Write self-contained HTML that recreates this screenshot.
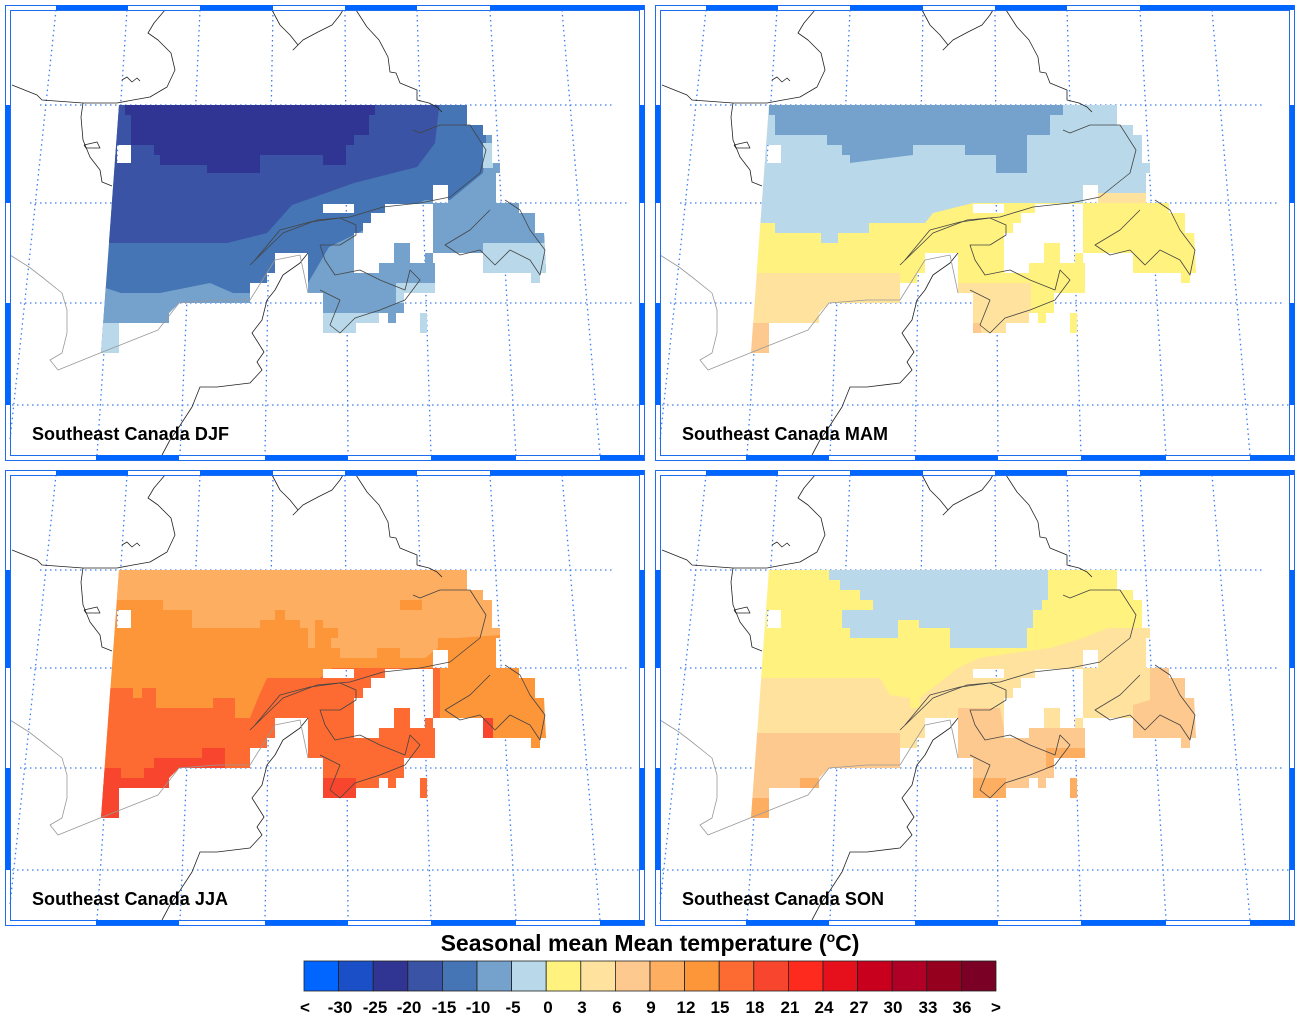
<!DOCTYPE html>
<html><head><meta charset="utf-8"><style>
html,body{margin:0;padding:0;background:#fff;}
svg{display:block;}
text{font-family:"Liberation Sans",sans-serif;font-weight:bold;}
</style></head><body>
<svg width="1300" height="1018" viewBox="0 0 1300 1018" xmlns="http://www.w3.org/2000/svg">
<defs>
<clipPath id="mask">
<path clip-rule="evenodd" d="M119,105 L467,105 L467,125 L483,125 L483,135 L492,135 L492,163 L500,163 L500,173 L496,173 L496,203 L519,203 L519,213 L535,213 L535,233 L544,233 L546,273 L540,273 L540,283 L531,283 L531,273 L483,273 L483,253 L433,253 L433,263 L435,263 L435,293 L404,293 L404,313 L396,313 L396,323 L388,323 L388,313 L379,313 L379,323 L356,323 L356,333 L323,333 L323,293 L308,293 L308,253 L275,253 L275,273 L267,273 L267,283 L250,283 L250,303 L179,303 L169,313 L169,323 L119,323 L119,353 L101,353 Z
M385,204 L433,204 L433,253 L425,253 L425,263 L410,263 L410,243 L394,243 L394,263 L379,263 L379,273 L354,273 L354,233 L363,233 L363,223 L371,223 L371,213 L385,213 Z
M323,204 L354,204 L354,213 L323,213 Z
M433,185 L448,185 L448,203 L433,203 Z
M117,145 L131,145 L131,163 L117,163 Z
M420,313 L427,313 L427,333 L420,333 Z"/>
</clipPath>
<g id="grid" stroke="#3a7cf0" stroke-width="1.3" stroke-dasharray="1.5,3.5" fill="none">
<line x1="40" y1="105" x2="615" y2="105"/>
<line x1="30" y1="203" x2="627" y2="203"/>
<line x1="20" y1="303" x2="635" y2="303"/>
<line x1="12" y1="405" x2="640" y2="405"/>
<line x1="56" y1="10" x2="10" y2="440"/>
<line x1="127" y1="10" x2="97" y2="455"/>
<line x1="200" y1="10" x2="180" y2="455"/>
<line x1="273" y1="10" x2="265" y2="455"/>
<line x1="345" y1="10" x2="348" y2="455"/>
<line x1="417" y1="10" x2="431" y2="455"/>
<line x1="490" y1="10" x2="516" y2="455"/>
<line x1="562" y1="10" x2="600" y2="455"/>
</g>
<g id="coast" fill="none" stroke-width="0.8" stroke-linejoin="round">
<polyline stroke="#222" points="165,10 154,23 148,33 158,40 171,53 175,70 167,87 150,97 133,100 117,103 83,103 42,100 37,95 12,85"/>
<polyline stroke="#222" points="83,103 81,117 83,140 90,157 100,170 102,182 112,186"/>
<polyline stroke="#222" points="84,145 97,142 100,148 86,148 84,145"/>
<polyline stroke="#222" points="122,80 127,77 132,82 137,78 140,81"/>
<polyline stroke="#222" points="272,10 280,25 290,35 298,45 293,50 303,40 318,32 332,25 340,15 343,10"/>
<polyline stroke="#222" points="356,10 367,27 379,40 388,57 390,72 396,73 400,83 417,90 417,100 429,103 437,107 442,112"/>
<polyline stroke="#222" points="308,253 300,263 283,275 275,290 267,300 262,320 252,333 264,352 257,362 262,370 250,383 217,387 200,387 192,407 179,427 170,440 162,455"/>
<polyline stroke="#444" points="250,265 283,233 317,220 350,217 383,207 420,203 450,197 480,173 486,150 470,125 440,125 420,133 413,130"/>
<polyline stroke="#444" points="255,260 280,230 310,222 340,218 356,225 356,235 340,245 320,245 325,260 335,275 360,270 380,280 405,290 410,270 420,280 405,300 380,310 355,318 340,333 330,325 340,300 320,290"/>
<polyline stroke="#444" points="490,210 470,230 445,245 460,255 480,250 495,265 510,250 530,260 540,275 545,250 530,230 520,210 505,200"/>
<polyline stroke="#999" points="10,255 29,267 42,277 62,293 67,310 67,333 62,353 50,360 58,370 100,353 158,330 179,303 217,300 250,300 275,260 300,255 308,293"/>
</g>
<g id="frame">
<rect x="5.5" y="5.5" width="639" height="455" fill="none" stroke="#1e6cf0" stroke-width="1"/>
<rect x="10.5" y="10.5" width="629" height="445" fill="none" stroke="#1e6cf0" stroke-width="1"/>
<g fill="#0066ff">
<rect x="56" y="5" width="72" height="5"/><rect x="200" y="5" width="73" height="5"/><rect x="345" y="5" width="72" height="5"/><rect x="490" y="5" width="154" height="5"/>
<rect x="96" y="455" width="83" height="5"/><rect x="265" y="455" width="83" height="5"/><rect x="431" y="455" width="85" height="5"/><rect x="600" y="455" width="44" height="5"/>
<rect x="5" y="105" width="5" height="98"/><rect x="5" y="303" width="5" height="102"/>
<rect x="640" y="105" width="5" height="98"/><rect x="640" y="303" width="5" height="102"/>
</g>
</g>
</defs>

<!-- DJF -->
<g transform="translate(0,0)">
<use href="#grid"/>
<g clip-path="url(#mask)">
<rect x="90" y="100" width="470" height="300" fill="#4575b4"/>
<polygon fill="#3a53a4" points="90,100 440,100 435,143 417,167 354,183 292,205 267,233 227,243 90,243"/>
<polygon fill="#303493" points="125,105 375,105 375,115 369,115 369,135 354,135 354,145 346,145 346,165 323,165 323,155 260,155 260,173 207,173 207,165 160,165 160,155 154,155 154,145 131,145 131,115 125,115"/>
<polygon fill="#74a2cc" points="90,283 121,293 160,293 210,283 233,293 250,293 308,283 329,247 358,233 425,200 450,200 483,173 486,143 486,100 600,100 600,400 90,400"/>
<g fill="#b9d9ea"><rect x="90" y="323" width="29" height="40"/><rect x="323" y="313" width="56" height="25"/><rect x="396" y="283" width="40" height="20"/><rect x="483" y="243" width="70" height="45"/><rect x="420" y="313" width="8" height="20"/><rect x="483" y="143" width="10" height="25"/></g>
</g>
<use href="#coast"/><use href="#frame"/>
<text x="32" y="440" font-size="18" textLength="197">Southeast Canada DJF</text>
</g>

<!-- MAM -->
<g transform="translate(650,0)">
<use href="#grid"/>
<g clip-path="url(#mask)">
<rect x="90" y="100" width="470" height="300" fill="#ffe29e"/>
<polygon fill="#fff27e" points="90,223 125,223 125,233 171,233 171,243 188,243 188,233 219,233 219,223 275,223 283,213 323,203 600,203 600,400 250,400 250,273 90,273"/>
<polygon fill="#b9d9ea" points="90,100 600,100 600,193 448,193 448,203 323,203 283,213 275,223 219,223 219,233 188,233 188,243 171,243 171,233 125,233 125,223 90,223"/>
<polygon fill="#74a2cc" points="119,105 413,105 413,115 400,115 400,135 377,135 377,173 346,173 346,155 315,155 315,145 263,145 263,155 200,163 200,155 192,155 192,145 177,145 177,135 125,135 125,115 119,115"/>
<g fill="#ffe29e"><rect x="306" y="283" width="75" height="50"/></g>
<g fill="#fec98f"><rect x="90" y="323" width="29" height="40"/><rect x="323" y="323" width="8" height="10"/></g>
</g>
<use href="#coast"/><use href="#frame"/>
<text x="32" y="440" font-size="18" textLength="206">Southeast Canada MAM</text>
</g>

<!-- JJA -->
<g transform="translate(0,465)">
<use href="#grid"/>
<g clip-path="url(#mask)">
<rect x="90" y="100" width="470" height="300" fill="#fd9539"/>
<polygon fill="#fd6a32" points="90,223 133,223 133,233 142,233 142,223 156,223 156,243 213,243 213,233 235,233 235,253 250,253 258,233 267,213 320,213 333,203 440,203 440,400 90,400"/>
<polygon fill="#fdae61" points="90,100 600,100 600,165 500,170 458,173 438,173 438,183 425,193 400,193 400,183 377,183 377,193 340,193 340,183 331,183 331,173 338,173 338,163 323,163 323,155 315,155 315,183 308,183 308,163 300,163 300,155 285,155 285,145 275,145 275,155 260,155 260,163 192,163 192,145 163,145 163,135 90,135"/>
<polygon fill="#f7462d" points="90,303 121,303 121,313 144,313 144,303 154,303 154,293 202,293 202,283 225,283 225,310 180,310 169,323 119,323 119,360 90,360"/>
<g fill="#f7462d"><rect x="323" y="313" width="33" height="22"/><rect x="483" y="253" width="10" height="20"/></g>
<g fill="#fd9539"><rect x="400" y="135" width="22" height="10"/></g>
</g>
<use href="#coast"/><use href="#frame"/>
<text x="32" y="440" font-size="18" textLength="196">Southeast Canada JJA</text>
</g>

<!-- SON -->
<g transform="translate(650,465)">
<use href="#grid"/>
<g clip-path="url(#mask)">
<rect x="90" y="100" width="470" height="300" fill="#ffe29e"/>
<polygon fill="#fff27e" points="90,100 600,100 600,163 500,163 458,163 433,173 400,183 329,193 308,203 270,233 270,243 260,243 260,233 240,230 230,213 90,213"/>
<polygon fill="#b9d9ea" points="179,105 398,105 398,135 392,135 392,145 383,145 383,163 377,163 377,183 300,183 300,163 269,163 269,155 248,155 248,173 200,173 200,163 192,163 192,145 223,145 223,135 210,135 210,125 190,125 190,115 179,115"/>
<g fill="#fec98f">
<polygon points="90,268 250,268 250,400 90,400"/>
<polygon points="308,243 350,243 354,263 440,263 440,340 308,340"/>
<polygon points="483,240 500,235 500,203 560,203 560,290 483,290"/>
</g>
<g fill="#fdae61"><rect x="90" y="333" width="29" height="30"/><rect x="150" y="313" width="19" height="10"/><rect x="323" y="313" width="33" height="22"/><rect x="396" y="283" width="40" height="20"/><rect x="420" y="313" width="8" height="20"/></g>
</g>
<use href="#coast"/><use href="#frame"/>
<text x="32" y="440" font-size="18" textLength="202">Southeast Canada SON</text>
</g>

<!-- colorbar -->
<text x="650" y="951" font-size="23" text-anchor="middle">Seasonal mean Mean temperature (<tspan font-size="14" dy="-9">o</tspan><tspan dy="9">C)</tspan></text>
<g stroke="#222" stroke-width="0.8">
<rect x="304" y="961" width="34.6" height="30" fill="#0066ff"/>
<rect x="338.6" y="961" width="34.6" height="30" fill="#1a4fc8"/>
<rect x="373.2" y="961" width="34.6" height="30" fill="#303493"/>
<rect x="407.8" y="961" width="34.6" height="30" fill="#3a53a4"/>
<rect x="442.4" y="961" width="34.6" height="30" fill="#4575b4"/>
<rect x="477" y="961" width="34.6" height="30" fill="#74a2cc"/>
<rect x="511.6" y="961" width="34.6" height="30" fill="#b9d9ea"/>
<rect x="546.2" y="961" width="34.6" height="30" fill="#fff27e"/>
<rect x="580.8" y="961" width="34.6" height="30" fill="#ffe29e"/>
<rect x="615.4" y="961" width="34.6" height="30" fill="#fec98f"/>
<rect x="650" y="961" width="34.6" height="30" fill="#fdae61"/>
<rect x="684.6" y="961" width="34.6" height="30" fill="#fd9539"/>
<rect x="719.2" y="961" width="34.6" height="30" fill="#fd6a32"/>
<rect x="753.8" y="961" width="34.6" height="30" fill="#f7462d"/>
<rect x="788.4" y="961" width="34.6" height="30" fill="#ff2a1e"/>
<rect x="823" y="961" width="34.6" height="30" fill="#e5101c"/>
<rect x="857.6" y="961" width="34.6" height="30" fill="#c8001e"/>
<rect x="892.2" y="961" width="34.6" height="30" fill="#b00025"/>
<rect x="926.8" y="961" width="34.6" height="30" fill="#96001f"/>
<rect x="961.4" y="961" width="34.6" height="30" fill="#7a0025"/>
</g>
<g font-size="17" text-anchor="middle">
<text x="305" y="1013">&lt;</text>
<text x="340" y="1013">-30</text><text x="375" y="1013">-25</text><text x="409" y="1013">-20</text><text x="444" y="1013">-15</text><text x="478" y="1013">-10</text><text x="513" y="1013">-5</text><text x="548" y="1013">0</text><text x="582" y="1013">3</text><text x="617" y="1013">6</text><text x="651" y="1013">9</text><text x="686" y="1013">12</text><text x="720" y="1013">15</text><text x="755" y="1013">18</text><text x="790" y="1013">21</text><text x="824" y="1013">24</text><text x="859" y="1013">27</text><text x="893" y="1013">30</text><text x="928" y="1013">33</text><text x="962" y="1013">36</text>
<text x="996" y="1013">&gt;</text>
</g>
</svg>
</body></html>
